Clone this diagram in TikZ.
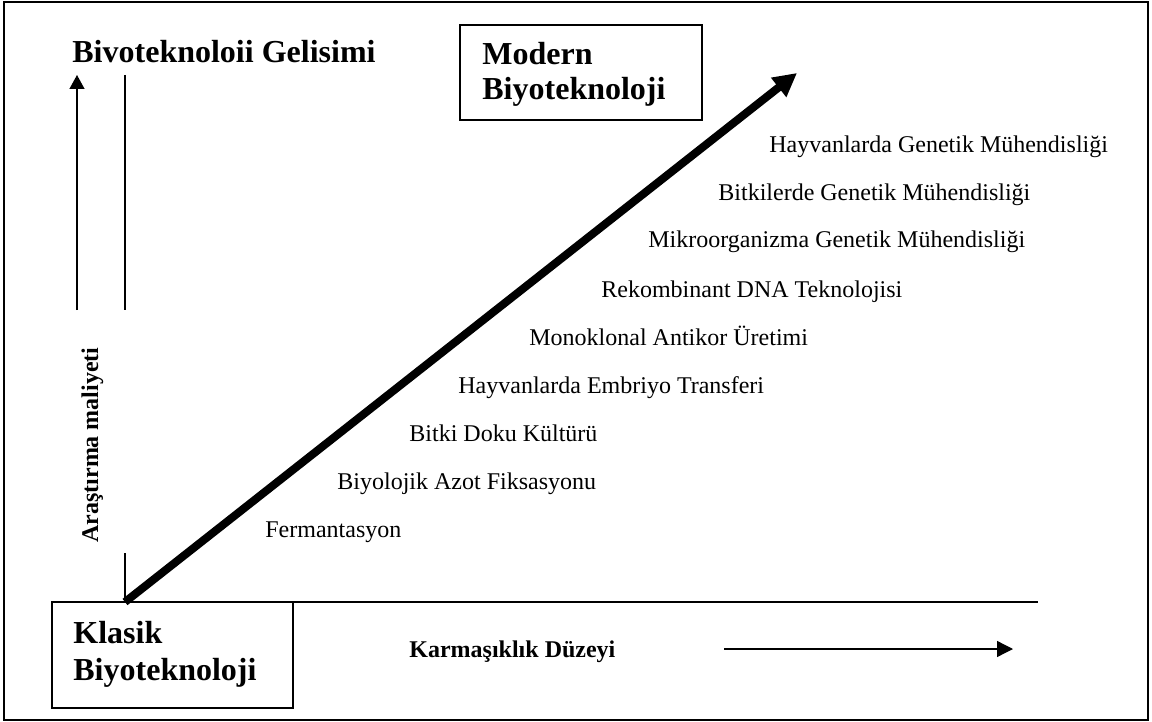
\documentclass[tikz,border=0pt]{standalone}
\usepackage{fontspec}
\setmainfont{Liberation Serif}
\usetikzlibrary{arrows.meta}
\begin{document}
\begin{tikzpicture}[x=0.5pt,y=-0.5pt,
  lbl/.style={anchor=base west, inner sep=0pt, font=\fontsize{12pt}{14pt}\selectfont},
  blbl/.style={anchor=base west, inner sep=0pt, font=\fontsize{12pt}{14pt}\selectfont\bfseries},
  ttl/.style={anchor=base west, inner sep=0pt, font=\fontsize{16pt}{19pt}\selectfont\bfseries},
  box/.style={draw, line width=0.75pt, anchor=north west, inner sep=0pt, outer sep=0pt},
  thin/.style={line width=0.65pt},
  bigarrow/.style={line width=4pt, -{Triangle[length=11.7pt,width=11.6pt]}},
  smallup/.style={thin, -{Triangle[length=7pt,width=7.5pt]}},
  smallright/.style={thin, -{Triangle[length=8pt,width=8pt]}}
]
\useasboundingbox (0,0) rectangle (1152,722);
% outer frame
\node[box, minimum width=572pt, minimum height=359pt] (frame) at (4,2) {};
% boxes
\node[box, minimum width=121pt, minimum height=47.5pt] (modern) at (460,25) {};
\node[box, minimum width=120.5pt, minimum height=53pt] (klasik) at (52,602) {};
% box texts
\node[ttl] (modern1) at (482,65) {Modern};
\node[ttl] (modern2) at (482,100) {Biyoteknoloji};
\node[ttl] (klasik1) at (73,643) {Klasik};
\node[ttl] (klasik2) at (73,680) {Biyoteknoloji};
% title
\node[ttl] (title) at (72,63) {Bivoteknoloii Gelisimi};
% vertical axis pieces
\coordinate (upbot) at (77,310);
\coordinate (uptop) at (77,75);
\draw[smallup] (upbot) -- (uptop);
\coordinate (vtop) at (125,75);
\coordinate (vmid) at (125,310);
\coordinate (vlow) at (125,553);
\coordinate (origin) at (125,602);
\draw[thin] (vtop) -- (vmid);
\draw[thin] (vlow) -- (origin);
% horizontal axis
\coordinate (hend) at (1038,602);
\draw[thin] (origin) -- (hend);
% axis labels
\node[blbl, anchor=base, rotate=90] (cost) at (98,445) {Araştırma maliyeti};
\node[blbl] (complex) at (409,657) {Karmaşıklık Düzeyi};
\coordinate (rstart) at (724,649);
\coordinate (rend) at (1013,649);
\draw[smallright] (rstart) -- (rend);
% big diagonal arrow
\coordinate (tip) at (797,73);
\draw[bigarrow] (origin) -- (tip);
% list items
\node[lbl] (i1) at (265,537) {Fermantasyon};
\node[lbl] (i2) at (337,489) {Biyolojik Azot Fiksasyonu};
\node[lbl] (i3) at (409,441) {Bitki Doku Kültürü};
\node[lbl] (i4) at (458,393) {Hayvanlarda Embriyo Transferi};
\node[lbl] (i5) at (529,345) {Monoklonal Antikor Üretimi};
\node[lbl] (i6) at (601,297) {Rekombinant DNA Teknolojisi};
\node[lbl] (i7) at (648,248) {Mikroorganizma Genetik Mühendisliği};
\node[lbl] (i8) at (718,200) {Bitkilerde Genetik Mühendisliği};
\node[lbl] (i9) at (769,153) {Hayvanlarda Genetik Mühendisliği};
\end{tikzpicture}
\end{document}
